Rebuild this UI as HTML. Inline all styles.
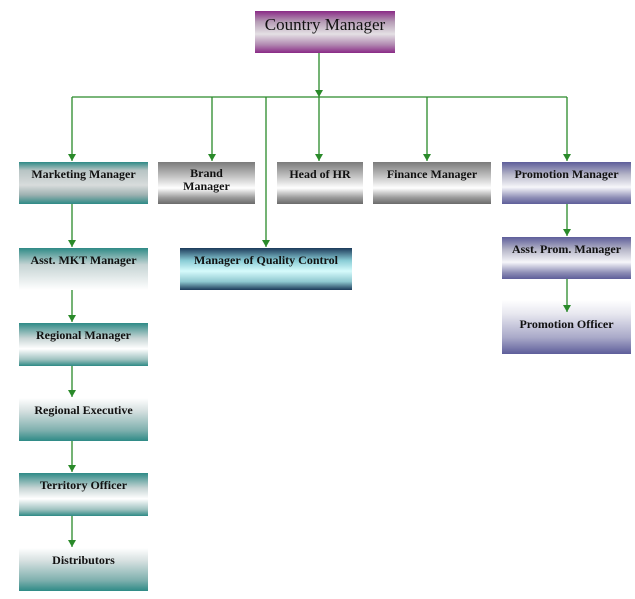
<!DOCTYPE html>
<html><head><style>
body{margin:0;width:635px;height:599px;background:#fff;position:relative;font-family:"Liberation Serif",serif;overflow:hidden}
.b{position:absolute;box-sizing:border-box;text-align:center;font-weight:bold;font-size:12px;color:#111;line-height:13px}
.teal{background:linear-gradient(#2e8a86 0%,#b8c4c4 20%,#d8dcdc 55%,#9fb2b2 78%,#2e8a86 100%)}
.teal2{background:linear-gradient(#2e8a86 0%,#c6d4d4 35%,#fff 60%,#9fc2c0 85%,#2e8a86 100%)}
.gray{background:linear-gradient(#7a7a7a 0%,#c4c4c4 35%,#fff 62%,#9a9a9a 85%,#6a6a6a 100%)}
.purp{background:linear-gradient(#5e5e9a 0%,#b6b6c8 30%,#f6f6fa 60%,#8d8db5 85%,#5e5e9a 100%)}
.purp2{background:linear-gradient(#fff 0%,#e8e8f0 25%,#a8a8c8 70%,#5e5e9a 100%)}
.navy{background:linear-gradient(#1c3a5a 0%,#8acdd6 30%,#d6fbfc 55%,#8fc8d0 80%,#1c3a5a 100%)}
</style></head><body>
<div class="b" style="left:255px;top:11px;width:140px;height:42px;font-weight:normal;font-size:17px;line-height:28px;background:linear-gradient(#8a2a86 0%,#b49ab4 25%,#e4e0e4 55%,#b28ab2 80%,#8a2a86 100%)">Country Manager</div>
<div class="b teal" style="left:19px;top:162px;width:129px;height:42px;padding-top:6px">Marketing Manager</div>
<div class="b gray" style="left:158px;top:162px;width:97px;height:42px;padding-top:5px">Brand<br>Manager</div>
<div class="b gray" style="left:277px;top:162px;width:86px;height:42px;padding-top:6px">Head of HR</div>
<div class="b gray" style="left:373px;top:162px;width:118px;height:42px;padding-top:6px">Finance Manager</div>
<div class="b purp" style="left:502px;top:162px;width:129px;height:42px;padding-top:6px">Promotion Manager</div>
<div class="b" style="left:19px;top:248px;width:129px;height:42px;padding-top:6px;background:linear-gradient(#2e8a86 0%,#c6d4d4 40%,#fff 100%)">Asst. MKT Manager</div>
<div class="b navy" style="left:180px;top:248px;width:172px;height:42px;padding-top:6px">Manager of Quality Control</div>
<div class="b purp" style="left:502px;top:237px;width:129px;height:42px;padding-top:6px">Asst. Prom. Manager</div>
<div class="b purp2" style="left:502px;top:300px;width:129px;height:54px;padding-top:18px">Promotion Officer</div>
<div class="b teal2" style="left:19px;top:323px;width:129px;height:43px;padding-top:6px">Regional Manager</div>
<div class="b teal2" style="left:19px;top:398px;width:129px;height:43px;padding-top:6px;background:linear-gradient(#fff 0%,#d6e0e0 30%,#7fb0ae 75%,#2e8a86 100%)">Regional Executive</div>
<div class="b teal2" style="left:19px;top:473px;width:129px;height:43px;padding-top:6px">Territory Officer</div>
<div class="b" style="left:19px;top:548px;width:129px;height:43px;padding-top:6px;background:linear-gradient(#fff 0%,#d6e0e0 30%,#7fb0ae 75%,#2e8a86 100%)">Distributors</div>
<svg width="635" height="599" style="position:absolute;left:0;top:0" fill="none" stroke="#2a8a2a" stroke-width="1.3">
<g>
<path d="M319,53V97"/><path d="M72,97H567"/>
<path d="M72,97V161"/><path d="M212,97V161"/><path d="M266,97V247"/><path d="M319,97V161"/><path d="M427,97V161"/><path d="M567,97V161"/>
<path d="M72,204V247"/><path d="M72,290V322"/><path d="M72,366V397"/><path d="M72,441V472"/><path d="M72,516V547"/>
<path d="M567,204V236"/><path d="M567,279V312"/>
</g>
<g fill="#2a8a2a" stroke="none">
<path d="M315,90h8l-4,7z"/>
<path d="M68,154h8l-4,7z"/><path d="M208,154h8l-4,7z"/><path d="M262,240h8l-4,7z"/><path d="M315,154h8l-4,7z"/><path d="M423,154h8l-4,7z"/><path d="M563,154h8l-4,7z"/>
<path d="M68,240h8l-4,7z"/><path d="M68,315h8l-4,7z"/><path d="M68,390h8l-4,7z"/><path d="M68,465h8l-4,7z"/><path d="M68,540h8l-4,7z"/>
<path d="M563,229h8l-4,7z"/><path d="M563,305h8l-4,7z"/>
</g></svg>
</body></html>
